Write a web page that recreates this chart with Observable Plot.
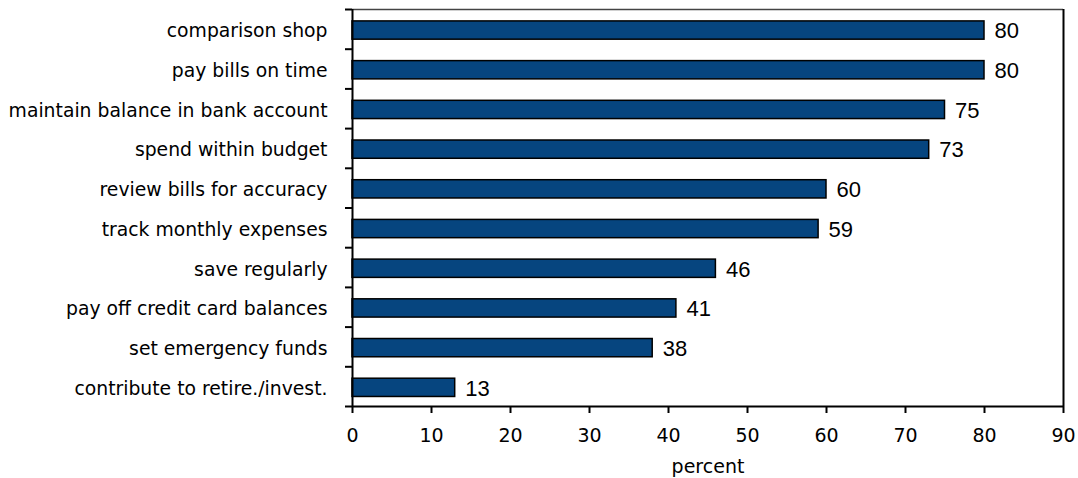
<!DOCTYPE html>
<html>
<head>
<meta charset="utf-8">
<script src="https://cdn.jsdelivr.net/npm/d3@7"></script>
<script src="https://cdn.jsdelivr.net/npm/@observablehq/plot@0.6"></script>
<style>
  body { margin: 0; background: #fff; }
  #chart svg { display: block; }
</style>
</head>
<body>
<div id="chart"></div>
<script>
// Money-management habits, top to bottom, with the share of respondents (percent)
const habits = [
  "comparison shop",
  "pay bills on time",
  "maintain balance in bank account",
  "spend within budget",
  "review bills for accuracy",
  "track monthly expenses",
  "save regularly",
  "pay off credit card balances",
  "set emergency funds",
  "contribute to retire./invest."
];
const percents = [80, 80, 75, 73, 60, 59, 46, 41, 38, 13];
const xTicks = [0, 10, 20, 30, 40, 50, 60, 70, 80, 90];

// one row per habit; row index drives the vertical position
const rows = habits.map((habit, i) => ({ habit, pct: percents[i], row: i }));
const rowEdges = d3.range(0, habits.length + 1);

const chart = Plot.plot({
  width: 1078,
  height: 478,
  marginLeft: 352,
  marginRight: 15,
  marginTop: 9,
  marginBottom: 72,
  x: { domain: [0, 90] },
  y: { domain: [0, habits.length], reverse: true },
  style: { fontFamily: "DejaVu Sans", background: "white", color: "#000" },
  marks: [
    Plot.rect(rows, {
      x1: 0, x2: "pct",
      y1: d => d.row + 0.3, y2: d => d.row + 0.76,
      fill: "#06457f", stroke: "#000", strokeWidth: 1.5
    }),
    Plot.text(rows, {
      x: "pct", y: d => d.row + 0.55, text: d => String(d.pct),
      textAnchor: "start", dx: 10, fontSize: 22, fontFamily: "Liberation Sans", fill: "#000"
    }),
    Plot.text(rows, {
      x: 0, y: d => d.row + 0.55, text: "habit",
      textAnchor: "end", dx: -25, fontSize: 18.8, fill: "#000"
    }),
    // category separators as outward ticks on the left axis
    Plot.axisY({ ticks: rowEdges, tickSize: 7, tickFormat: () => "", strokeWidth: 2, label: null }),
    Plot.axisX({
      ticks: xTicks, tickSize: 7, tickPadding: 15, strokeWidth: 2, fontSize: 19,
      label: "percent", labelAnchor: "center", labelArrow: "none", labelOffset: 66
    }),
    Plot.ruleY([0], { stroke: "#444", strokeWidth: 1.5 }),
    Plot.ruleX([90], { stroke: "#000", strokeWidth: 2 }),
    Plot.ruleX([0], { stroke: "#000", strokeWidth: 2 }),
    Plot.ruleY([habits.length], { stroke: "#000", strokeWidth: 2 })
  ]
});

document.getElementById("chart").appendChild(chart);
</script>
</body>
</html>
